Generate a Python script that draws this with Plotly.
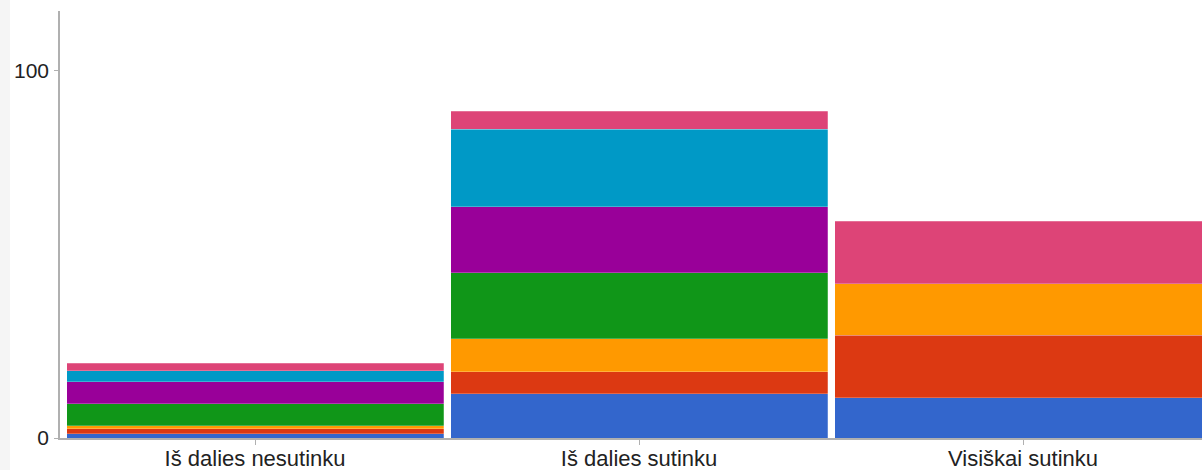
import plotly.graph_objects as go

categories = ["Iš dalies nesutinku", "Iš dalies sutinku", "Visiškai sutinku"]
series_names = ["S1", "S2", "S3", "S4", "S5", "S6", "S7"]
series_colors = ["#3366cc", "#dc3912", "#ff9900", "#109618", "#990099", "#0099c6", "#dd4477"]
s1 = [1.1, 12, 11]
s2 = [1.4, 6, 17]
s3 = [0.8, 9, 14]
s4 = [6, 18, 0]
s5 = [6, 18, 0]
s6 = [3, 21, 0]
s7 = [2, 5, 17]
series_values = [s1, s2, s3, s4, s5, s6, s7]
y_ticks = [0, 100]

fig = go.Figure()
for name, color, vals in zip(series_names, series_colors, series_values):
    fig.add_trace(go.Bar(
        x=[0, 1, 2], y=vals, name=name,
        marker=dict(color=color, line=dict(color="rgba(255,255,255,0.3)", width=0.8)),
        width=0.982, hoverinfo="skip",
    ))

W, H = 1202, 470
ml, mt, mb = 60, 11, 32
plot_h = H - mt - mb
plot_w = W - ml
xr = [-0.508, 2.466]

fig.update_layout(
    barmode="stack",
    width=W, height=H,
    margin=dict(l=ml, r=0, t=mt, b=mb, pad=0, autoexpand=False),
    paper_bgcolor="white", plot_bgcolor="white",
    showlegend=False,
    font=dict(family="Liberation Sans, Arial, sans-serif", size=21, color="#222222"),
    xaxis=dict(
        tickmode="array", tickvals=[0, 1, 2], ticktext=categories,
        range=xr, showgrid=False, zeroline=False, automargin=False,
        showline=True, linecolor="#b0b0b0", linewidth=1.5,
        ticks="outside", ticklen=5, tickcolor="#b0b0b0", tickwidth=1,
        ticklabelstandoff=-5,
        tickfont=dict(size=22, color="#222222"),
    ),
    yaxis=dict(
        tickmode="array", tickvals=y_ticks, ticktext=[str(v) for v in y_ticks],
        range=[0, 116.25], showgrid=False, zeroline=False, automargin=False,
        showline=True, linecolor="#b0b0b0", linewidth=1.5,
        ticks="outside", ticklen=4, tickcolor="#b0b0b0", tickwidth=1,
        ticklabelstandoff=1,
        tickfont=dict(size=21, color="#222222"),
    ),
    shapes=[dict(
        type="rect", xref="paper", yref="paper",
        x0=-ml / plot_w, x1=(10 - ml) / plot_w,
        y0=-mb / plot_h, y1=(H - mb) / plot_h,
        fillcolor="#f5f5f5", line=dict(width=0), layer="below",
    )],
)

fig.write_html(
    "out.html",
    config={"displayModeBar": False},
    post_script="document.body.style.margin='0px';document.body.style.overflow='hidden';",
)
